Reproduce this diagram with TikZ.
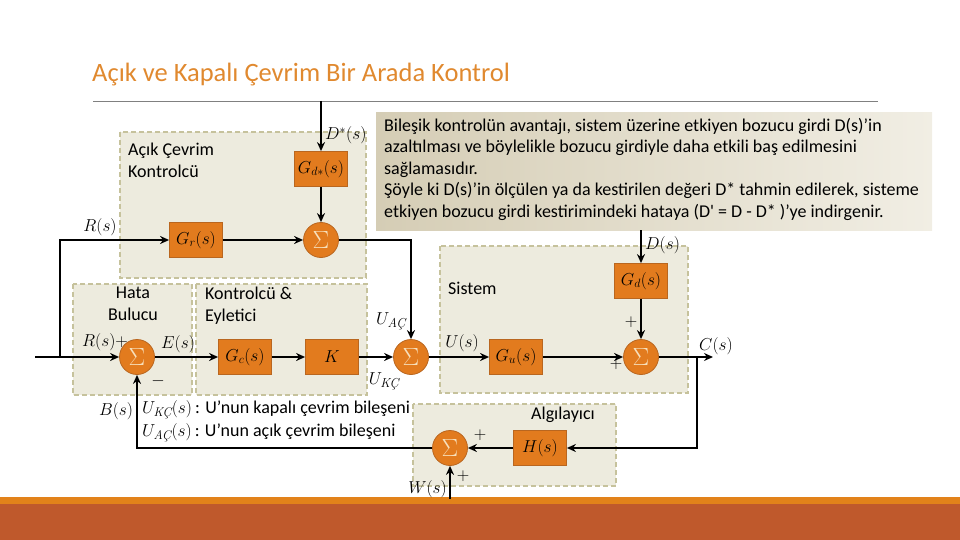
\documentclass[tikz,border=0pt]{standalone}
\usepackage{amsmath}
\usepackage{fontspec}
\newfontfamily\carlito{Carlito}
\usetikzlibrary{arrows.meta,positioning,calc}
\definecolor{blockor}{HTML}{E27B1E}
\definecolor{blockbd}{HTML}{B9661F}
\definecolor{sigcol}{HTML}{F7E0BC}
\definecolor{boxfill}{HTML}{EDEBDE}
\definecolor{boxbd}{HTML}{C6C29C}
\definecolor{titlecol}{HTML}{E0892F}
\definecolor{barA}{HTML}{E2821A}
\definecolor{barB}{HTML}{BF592C}
\definecolor{tbL}{HTML}{D5CDB5}
\definecolor{tbR}{HTML}{F1EEE4}
\newcommand\ACsub{\text{\rmfamily\itshape AÇ}}
\newcommand\KCsub{\text{\rmfamily\itshape KÇ}}
\begin{document}
\begin{tikzpicture}[x=1pt,y=-1pt,
  blk/.style={rectangle,draw=blockbd,fill=blockor,line width=0.8pt,minimum width=53pt,minimum height=35pt,inner sep=0pt,font=\fontsize{18}{20}\selectfont},
  sumnode/.style={circle,draw=blockbd,fill=blockor,line width=0.8pt,minimum size=35pt,inner sep=0pt,text=sigcol,font=\fontsize{24}{24}\selectfont},
  grp/.style={draw=boxbd,fill=boxfill,dashed,dash pattern=on 5pt off 3pt,line width=1.2pt},
  arr/.style={line width=2.6pt,-{Stealth[length=9pt,width=8pt]}},
  lab/.style={font=\fontsize{18.5}{20}\selectfont,inner sep=0pt},
  txt/.style={font=\carlito\fontsize{18}{21.5}\selectfont,inner sep=0pt},
]
\useasboundingbox (0,0) rectangle (960,540);
% bottom bar
\fill[barA] (0,497) rectangle (960,504);
\fill[barB] (0,504) rectangle (960,540);
% title
\node[anchor=west,text=titlecol,font=\carlito\fontsize{26.5}{30}\selectfont,inner sep=0pt] (title) at (92,75) {Açık ve Kapalı Çevrim Bir Arada Kontrol};
\draw[gray,line width=0.8pt] (93,101) -- (878,101);
% group boxes
\draw[grp] (120,132) rectangle (366,278);
\draw[grp] (73,284) rectangle (192,395);
\draw[grp] (196,284) rectangle (367,395);
\draw[grp] (440,246) rectangle (688,393);
\draw[grp] (413,404) rectangle (616,486);
% text box
\shade[left color=tbL,right color=tbR] (376,113) rectangle (932,230);
\node[txt,anchor=north west,align=left] (note) at (384,118) {Bileşik kontrolün avantajı, sistem üzerine etkiyen bozucu girdi D(s)’in\\azaltılması ve böylelikle bozucu girdiyle daha etkili baş edilmesini\\sağlamasıdır.\\Şöyle ki D(s)’in ölçülen ya da kestirilen değeri D* tahmin edilerek, sisteme\\etkiyen bozucu girdi kestirimindeki hataya (D' = D - D* )’ye indirgenir.};
% group labels
\node[txt,anchor=north west,align=left] (lacik) at (128,143) {Açık Çevrim\\Kontrolcü};
\node[txt,anchor=north,align=center] (lhata) at (133,287) {Hata\\Bulucu};
\node[txt,anchor=north west,align=left] (lkont) at (205,287) {Kontrolcü \&\\Eyletici};
\node[txt,anchor=west] (lsis) at (448,288) {Sistem};
\node[txt,anchor=center] (lalg) at (563,415) {Algılayıcı};
% blocks
\node[blk] (Gds) at (321,169) {$G_{d*}(s)$};
\node[blk] (Gr) at (196,240) {$G_r(s)$};
\node[sumnode] (s1) at (321,240) {$\Sigma$};
\node[sumnode] (s2) at (137,357) {$\Sigma$};
\node[blk] (Gc) at (245,357) {$G_c(s)$};
\node[blk] (K) at (332,357) {$K$};
\node[sumnode] (s3) at (411,357) {$\Sigma$};
\node[blk] (Gu) at (516,357) {$G_u(s)$};
\node[sumnode] (s4) at (641,357) {$\Sigma$};
\node[blk] (Gd) at (641,281) {$G_d(s)$};
\node[blk] (H) at (540,448) {$H(s)$};
\node[sumnode] (s5) at (450,448) {$\Sigma$};
% coordinates
\coordinate (dstar) at (321,101);
\coordinate (dtop) at (641,230);
\coordinate (rin) at (35,357);
\coordinate (rj) at (60,357);
\coordinate (cout) at (713,357);
\coordinate (br) at (697,357);
\coordinate (win) at (450,499);
% connectors
\draw[arr] (dstar) -- (Gds.north);
\draw[arr] (Gds.south) -- (s1.north);
\draw[arr] (rj) |- (Gr.west);
\draw[arr] (Gr.east) -- (s1.west);
\draw[arr] (s1.east) -| (s3.north);
\draw[arr] (rin) -- (s2.west);
\draw[arr] (s2.east) -- (Gc.west);
\draw[arr] (Gc.east) -- (K.west);
\draw[arr] (K.east) -- (s3.west);
\draw[arr] (s3.east) -- (Gu.west);
\draw[arr] (Gu.east) -- (s4.west);
\draw[arr] (dtop) -- (Gd.north);
\draw[arr] (Gd.south) -- (s4.north);
\draw[arr] (s4.east) -- (cout);
\draw[arr] (br) |- (H.east);
\draw[arr] (H.west) -- (s5.east);
\draw[arr] (win) -- (s5.south);
\draw[arr] (s5.west) -| (s2.south);
% math labels
\node[lab,anchor=west] (lDs) at (325,135) {$D^*(s)$};
\node[lab] (lR) at (100,227) {$R(s)$};
\node[lab] (lR2) at (105,342) {$R(s)+$};
\node[lab] (lE) at (178,344) {$E(s)$};
\node[lab] (lminus) at (158,381) {$-$};
\node[lab] (lUac) at (391,321) {$U_{\ACsub}$};
\node[lab] (lUkc) at (384,381) {$U_{\KCsub}$};
\node[lab] (lU) at (462,343) {$U(s)$};
\node[lab,anchor=west] (lD) at (645,245) {$D(s)$};
\node[lab] (lp1) at (631,322) {$+$};
\node[lab] (lp2) at (616,364) {$+$};
\node[lab] (lC) at (716,346) {$C(s)$};
\node[lab] (lB) at (116,411) {$B(s)$};
\node[lab] (lp3) at (480,435) {$+$};
\node[lab] (lp4) at (463,476) {$+$};
\node[lab,anchor=east] (lW) at (447,489) {$W(s)$};
\node[anchor=west,inner sep=0pt,font=\fontsize{18}{20}\selectfont] (leg1) at (142,410) {$U_{\KCsub}(s)$\,{\carlito : U’nun kapalı çevrim bileşeni}};
\node[anchor=west,inner sep=0pt,font=\fontsize{18}{20}\selectfont] (leg2) at (142,433) {$U_{\ACsub}(s)$\,{\carlito : U’nun açık çevrim bileşeni}};
\end{tikzpicture}
\end{document}
